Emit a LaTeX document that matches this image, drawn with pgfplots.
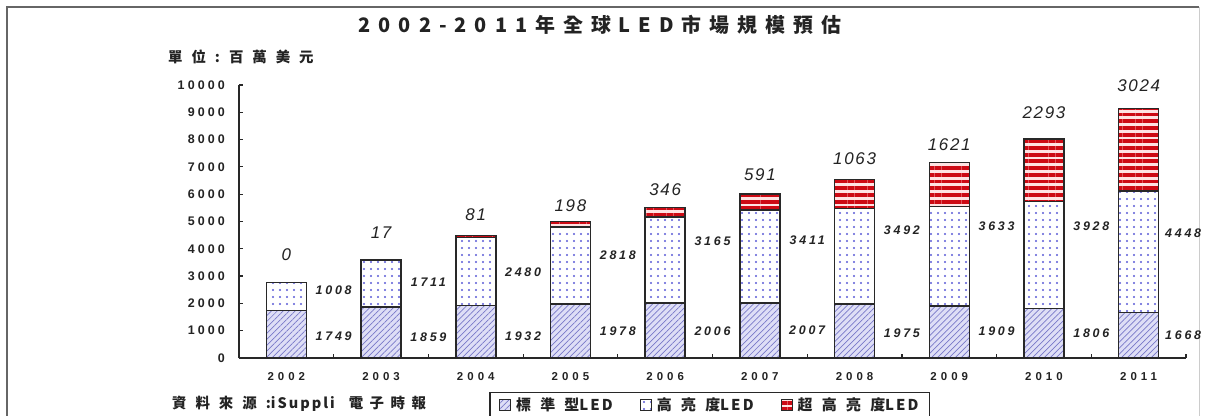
\documentclass[border=0pt]{standalone}
\usepackage{fontspec}
\setmainfont{Liberation Sans}
\newfontfamily\cjktitle{Noto Sans CJK TC}[LetterSpace=40]
\newfontfamily\cjksp{Noto Sans CJK TC}[LetterSpace=62]
\newfontfamily\cjkB{Noto Sans CJK TC}[LetterSpace=45]
\newfontfamily\latsp{Noto Sans CJK TC}[LetterSpace=14]
\newfontfamily\numfont{Liberation Sans}[LetterSpace=35]
\newfontfamily\ynumfont{Liberation Sans}[LetterSpace=25]
\newfontfamily\valfont{Liberation Sans}[LetterSpace=22]
\newfontfamily\topfont{Liberation Sans}[LetterSpace=10]
\usepackage{pgfplots}
\usepackage{pgfplotstable}
\pgfplotsset{compat=1.18}
\usetikzlibrary{patterns.meta}

\definecolor{barline}{RGB}{40,40,40}
\definecolor{stdfill}{RGB}{222,222,246}
\definecolor{stdline}{RGB}{120,120,200}
\definecolor{dotcol}{RGB}{90,90,215}
\definecolor{uhred}{RGB}{205,10,20}
\definecolor{uhgap}{RGB}{255,226,226}
\definecolor{txt}{RGB}{35,35,35}

% 單位: 百萬美元
\pgfplotstableread{
x std high ultra
0 1749 1008 0
1 1859 1711 17
2 1932 2480 81
3 1978 2818 198
4 2006 3165 346
5 2007 3411 591
6 1975 3492 1063
7 1909 3633 1621
8 1806 3928 2293
9 1668 4448 3024
}\ledtable

\newcommand{\sidelab}{\valfont\bfseries\itshape\fontsize{12.5}{13}\selectfont}
\newcommand{\toplab}{\topfont\itshape\fontsize{17}{17}\selectfont}
\newcommand{\cj}[1]{{\cjksp #1}}
\newcommand{\la}[1]{{\latsp #1}}
\tikzset{sl/.style={font=\sidelab, text=txt}, tl/.style={font=\toplab, text=txt}}
\pgfplotsset{sqlegend/.style={legend image code/.code={\draw[##1, line width=1bp] (0bp,-5.5bp) rectangle (11bp,5.5bp);}}}

\begin{document}
\begin{tikzpicture}
\useasboundingbox (0bp,0bp) rectangle (1206bp,416bp);
\fill[white] (0bp,0bp) rectangle (1206bp,416bp);
\draw[line width=2.5bp, black!60] (7bp,-5bp) -- (7bp,409bp) -- (1199bp,409bp);
\draw[line width=1bp, black!20] (1199bp,409bp) -- (1199bp,-5bp);

\node[font=\cjktitle\bfseries\fontsize{20}{20}\selectfont, text=txt] at (600bp,391bp) {2002-2011年全球LED市場規模預估};
\node[anchor=west, font=\bfseries\fontsize{14.5}{15}\selectfont, text=txt, inner sep=0pt] at (168bp,359bp) {\cj{單位:百萬美元}};
\node[anchor=west, font=\bfseries\fontsize{14.5}{15}\selectfont, text=txt, inner sep=0pt] at (172bp,12bp) {\cj{資料來源:}\la{iSuppli}\hspace{14bp}{\cjkB 電子時報}};

\begin{axis}[
  at={(239bp,58bp)}, anchor=south west, scale only axis,
  width=947bp, height=273bp,
  ybar stacked, bar width=40bp,
  xmin=-0.5, xmax=9.5, ymin=0, ymax=10000,
  clip=false,
  scaled y ticks=false,
  axis lines=left,
  axis line style={-, line width=1.6bp, draw=barline},
  tick align=inside, major tick length=4bp,
  tick style={line width=1.2bp, draw=barline},
  xtick={-0.5,0.5,...,9.5}, xticklabels={},
  extra x ticks={0,1,2,3,4,5,6,7,8,9},
  extra x tick labels={2002,2003,2004,2005,2006,2007,2008,2009,2010,2011},
  extra x tick style={major tick length=0pt},
  xticklabel style={anchor=north, inner sep=0pt, yshift=-14bp, text=txt,
    font=\numfont\bfseries\fontsize{11.5}{12}\selectfont},
  ytick={0,1000,2000,3000,4000,5000,6000,7000,8000,9000,10000},
  yticklabels={0,1000,2000,3000,4000,5000,6000,7000,8000,9000,10000},
  yticklabel style={anchor=east, inner sep=0pt, xshift=-14bp, text=txt,
    font=\ynumfont\bfseries\fontsize{12.5}{13}\selectfont},
  legend columns=3,
  legend cell align=left,
  legend style={at={(0.2645,-0.1245)}, anchor=north west, draw=barline,
    line width=1.2bp, inner xsep=9bp, inner ysep=3bp,
    font=\bfseries\fontsize{15}{15}\selectfont, text=txt,
    /tikz/every odd column/.append style={column sep=3bp},
    /tikz/every even column/.append style={column sep=25bp}},
]
\addplot[draw=barline, line width=1.5bp, fill=stdfill,
  postaction={pattern={Lines[angle=45,distance=4.2bp,line width=0.7bp]}, pattern color=stdline},
  sqlegend]
  table[x=x, y=std] {\ledtable};
\addplot[draw=barline, line width=1.5bp, fill=white,
  postaction={pattern={Dots[distance=7bp,radius=1.1bp]}, pattern color=dotcol},
  sqlegend]
  table[x=x, y=high] {\ledtable};
\addplot[draw=barline, line width=1.5bp, fill=uhgap,
  postaction={pattern={Lines[angle=0,distance=6.7bp,line width=3.9bp]}, pattern color=uhred},
  sqlegend]
  table[x=x, y=ultra] {\ledtable};
\legend{\cj{標準型}\la{LED}, \cj{高亮度}\la{LED}, \cj{超高亮度}\la{LED}}

% value labels
\node[sl] at (axis cs:0.5,780) {1749};
\node[sl] at (axis cs:1.5,760) {1859};
\node[sl] at (axis cs:2.5,800) {1932};
\node[sl] at (axis cs:3.5,965) {1978};
\node[sl] at (axis cs:4.5,965) {2006};
\node[sl] at (axis cs:5.5,1030) {2007};
\node[sl] at (axis cs:6.5,890) {1975};
\node[sl] at (axis cs:7.5,965) {1909};
\node[sl] at (axis cs:8.5,890) {1806};
\node[sl] at (axis cs:9.47,840) {1668};

\node[sl] at (axis cs:0.5,2470) {1008};
\node[sl] at (axis cs:1.5,2780) {1711};
\node[sl] at (axis cs:2.5,3160) {2480};
\node[sl] at (axis cs:3.5,3770) {2818};
\node[sl] at (axis cs:4.5,4290) {3165};
\node[sl] at (axis cs:5.5,4320) {3411};
\node[sl] at (axis cs:6.5,4690) {3492};
\node[sl] at (axis cs:7.5,4810) {3633};
\node[sl] at (axis cs:8.5,4830) {3928};
\node[sl] at (axis cs:9.47,4580) {4448};

\node[tl] at (axis cs:0,3770) {0};
\node[tl] at (axis cs:1,4580) {17};
\node[tl] at (axis cs:2,5240) {81};
\node[tl] at (axis cs:3,5570) {198};
\node[tl] at (axis cs:4,6150) {346};
\node[tl] at (axis cs:5,6700) {591};
\node[tl] at (axis cs:6,7290) {1063};
\node[tl] at (axis cs:7,7800) {1621};
\node[tl] at (axis cs:8,8970) {2293};
\node[tl] at (axis cs:9,9960) {3024};
\end{axis}
\end{tikzpicture}
\end{document}
